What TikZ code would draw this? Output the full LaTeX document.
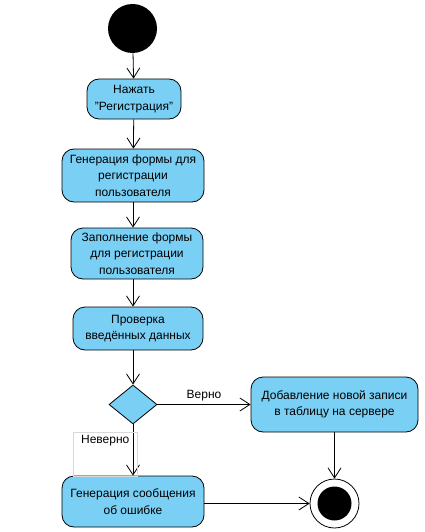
\documentclass[tikz,border=0pt]{standalone}
\usepackage{fontspec}
\setmainfont{Liberation Sans}
\usepackage{tikz}
\usetikzlibrary{arrows.meta,shapes.geometric}

\definecolor{actfill}{RGB}{122,207,245}

\begin{document}
\begin{tikzpicture}[x=1pt, y=-1pt, >={Straight Barb[length=10pt, width=13pt]}, font=\fontsize{12}{16.5}\selectfont, line width=0.8pt]
		\tikzset{action/.style={draw, rectangle, rounded corners=12pt, fill=actfill, align=center, inner sep=2pt},
			decision/.style={draw, diamond, fill=actfill, inner sep=0pt, minimum width=48pt, minimum height=39pt},
			guard/.style={inner sep=1pt}}
		\useasboundingbox (0,0) rectangle (425,532);
		\node[circle, fill=black, minimum size=49pt, inner sep=0pt] (start) at (132.5,28.5) {};
		\node[action, minimum width=94pt, minimum height=40pt] (press) at (134,99) {Нажать\\\symbol{34}Регистрация\symbol{34}};
		\node[action, minimum width=142pt, minimum height=53pt] (genform) at (133,175.5) {Генерация формы для\\регистрации\\пользователя};
		\node[action, minimum width=132pt, minimum height=51pt] (fill) at (137,253.5) {Заполнение формы\\для регистрации\\пользователя};
		\node[action, minimum width=130pt, minimum height=43pt] (check) at (138,328.5) {Проверка\\введённых данных};
		\node[decision] (dec) at (133,404.5) {};
		\node[action, minimum width=167pt, minimum height=55pt] (add) at (334.5,404.5) {Добавление новой записи\\в таблицу на сервере};
		\node[action, minimum width=142pt, minimum height=51pt] (err) at (133,501.5) {Генерация сообщения\\об ошибке};
		\node[circle, draw, fill=white, minimum size=49pt, inner sep=0pt] (stop) at (334.5,503.5) {};
		\node[circle, fill=black, minimum size=34pt, inner sep=0pt] at (stop) {};
		\draw[->] (start) -- (press);
		\draw[->] (press) -- (genform);
		\draw[->] (genform.south) -- (genform.south |- fill.north);
		\draw[->] (fill.south -| genform) -- (genform |- check.north);
		\draw[->] (check.south -| dec) -- (dec.north);
		\draw[->] (dec.east) -- node[guard, above=2pt, pos=0.5] (yes) {Верно} (add.west);
		\draw[->] (dec.south) -- (err.north);
		\node[guard, draw=black!15, line width=0.4pt, anchor=north west, minimum width=64pt, minimum height=44pt, text depth=30pt] (no) at (73,432) {Неверно};
		\draw[->] (add.south -| stop) -- (stop.north);
		\draw[->] (err.east |- stop) -- (stop.west);
	\end{tikzpicture}
\end{document}
